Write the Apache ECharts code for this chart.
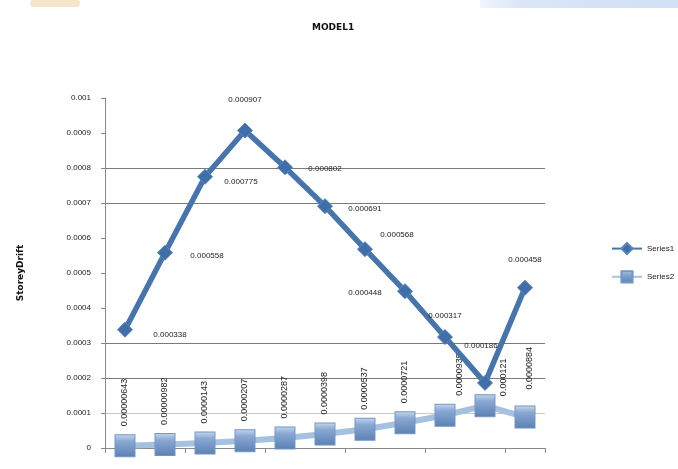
<!DOCTYPE html>
<html>
<head>
<meta charset="utf-8">
<script src="https://cdn.jsdelivr.net/npm/echarts@6/dist/echarts.min.js"></script>
<style>
  html, body { margin: 0; padding: 0; background: #fff; }
  #chart { width: 678px; height: 469px; }
</style>
</head>
<body>
<div id="chart"></div>
<script>
// Storey drift per storey for two result sets
const storeys = ['1', '2', '3', '4', '5', '6', '7', '8', '9', '10', '11'];
const series1Values = [0.000338, 0.000558, 0.000775, 0.000907, 0.000802, 0.000691,
                       0.000568, 0.000448, 0.000317, 0.000186, 0.000458];
const series2Values = [0.00000643, 0.00000982, 0.0000143, 0.0000207, 0.0000287, 0.0000398,
                       0.0000537, 0.0000721, 0.0000935, 0.000121, 0.0000884];
const yTicks = [0, 0.0001, 0.0002, 0.0003, 0.0004, 0.0005, 0.0006, 0.0007, 0.0008, 0.0009, 0.001];

// label offsets (centre of text relative to the marker), in pixels
const s1LabelOffset = [[45, 5], [42, 3], [36, 5], [0, -31], [40, 1], [40, 3],
                       [32, -14], [-40, 2], [0, -21], [-4, -37], [0, -28]];
// rotated labels: first value runs along the text (upwards), second moves it sideways
const s2LabelShift = [[0, 0], [0, 0], [0, 0], [0, 0], [0, 0], [0, 0],
                      [0, 0], [0, 0], [0, 15], [-10, 19], [8, 5]];

const labelFont = { fontFamily: 'Liberation Sans, Arial, sans-serif', fontSize: 8, color: '#222' };

const chart = echarts.init(document.getElementById('chart'), null, { renderer: 'canvas' });

chart.setOption({
  animation: false,
  backgroundColor: '#ffffff',
  title: {
    text: 'MODEL1',
    left: 307,
    top: 18,
    textStyle: { fontFamily: 'DejaVu Sans, sans-serif', fontSize: 9, fontWeight: 'bold', color: '#111' }
  },
  graphic: [
    {
      type: 'rect', shape: { x: 480, y: 0, width: 198, height: 8 },
      style: {
        fill: new echarts.graphic.LinearGradient(0, 0, 1, 0, [
          { offset: 0, color: '#f2f6fc' }, { offset: 0.2, color: '#dae6f8' }, { offset: 1, color: '#d2e0f5' }
        ])
      }
    },
    { type: 'rect', shape: { x: 30, y: 0, width: 50, height: 7, r: 3 }, style: { fill: '#f4e6cc' } }
  ],
  legend: {
    orient: 'vertical',
    left: 606,
    top: 237,
    itemGap: 15,
    itemWidth: 30,
    itemHeight: 14,
    textStyle: { fontFamily: 'Liberation Sans, Arial, sans-serif', fontSize: 8, color: '#222' },
    data: ['Series1', 'Series2']
  },
  grid: { left: 105, right: 133, top: 98, bottom: 21, containLabel: false },
  xAxis: {
    type: 'category',
    data: storeys,
    boundaryGap: true,
    axisLine: { lineStyle: { color: '#888', width: 1 } },
    axisTick: { show: true, interval: 1, length: 5, inside: false, lineStyle: { color: '#888' } },
    axisLabel: { show: false },
    splitLine: { show: false }
  },
  yAxis: {
    type: 'value',
    min: yTicks[0],
    max: yTicks[yTicks.length - 1],
    interval: yTicks[1] - yTicks[0],
    name: 'StoreyDrift',
    nameLocation: 'middle',
    nameGap: 80,
    nameTextStyle: { fontFamily: 'DejaVu Sans, sans-serif', fontSize: 9, fontWeight: 'bold', color: '#111' },
    axisLine: { show: true, lineStyle: { color: '#888', width: 1 } },
    axisTick: { show: true, length: 4, lineStyle: { color: '#888' } },
    axisLabel: {
      fontFamily: 'Liberation Sans, Arial, sans-serif', fontSize: 8, color: '#222', margin: 14,
      formatter: v => String(+v.toFixed(4))
    },
    splitLine: {
      show: true,
      lineStyle: {
        width: 1,
        color: ['rgba(0,0,0,0)', '#c8c8c8', '#7a7a7a', '#7a7a7a', 'rgba(0,0,0,0)', 'rgba(0,0,0,0)',
                'rgba(0,0,0,0)', '#7a7a7a', '#7a7a7a', 'rgba(0,0,0,0)', 'rgba(0,0,0,0)']
      }
    }
  },
  series: [
    {
      name: 'Series2',
      type: 'line',
      z: 2,
      data: series2Values.map((v, i) => ({
        value: v,
        label: { offset: s2LabelShift[i] }
      })),
      symbol: 'rect',
      symbolSize: [20, 22],
      lineStyle: { color: '#a6c0e0', width: 6 },
      itemStyle: {
        color: new echarts.graphic.LinearGradient(0, 0, 0, 1, [
          { offset: 0, color: '#c6d8ef' },
          { offset: 0.3, color: '#8aa9d2' },
          { offset: 1, color: '#5a80b5' }
        ]),
        borderColor: '#7396c4',
        borderWidth: 1
      },
      label: {
        show: true,
        position: 'top',
        distance: 8,
        rotate: 90,
        align: 'left',
        verticalAlign: 'middle',
        formatter: p => String(p.value),
        fontFamily: 'Liberation Sans, Arial, sans-serif',
        fontSize: 9,
        color: '#222'
      }
    },
    {
      name: 'Series1',
      type: 'line',
      z: 3,
      data: series1Values.map((v, i) => ({
        value: v,
        label: { offset: s1LabelOffset[i] }
      })),
      symbol: 'diamond',
      symbolSize: 15,
      lineStyle: { color: '#4674ad', width: 5.5 },
      itemStyle: { color: '#3f6ea8', borderColor: '#5b86bd', borderWidth: 1 },
      label: {
        show: true,
        position: 'inside',
        align: 'center',
        verticalAlign: 'middle',
        formatter: p => String(p.value),
        ...labelFont
      }
    }
  ]
});
</script>
</body>
</html>
